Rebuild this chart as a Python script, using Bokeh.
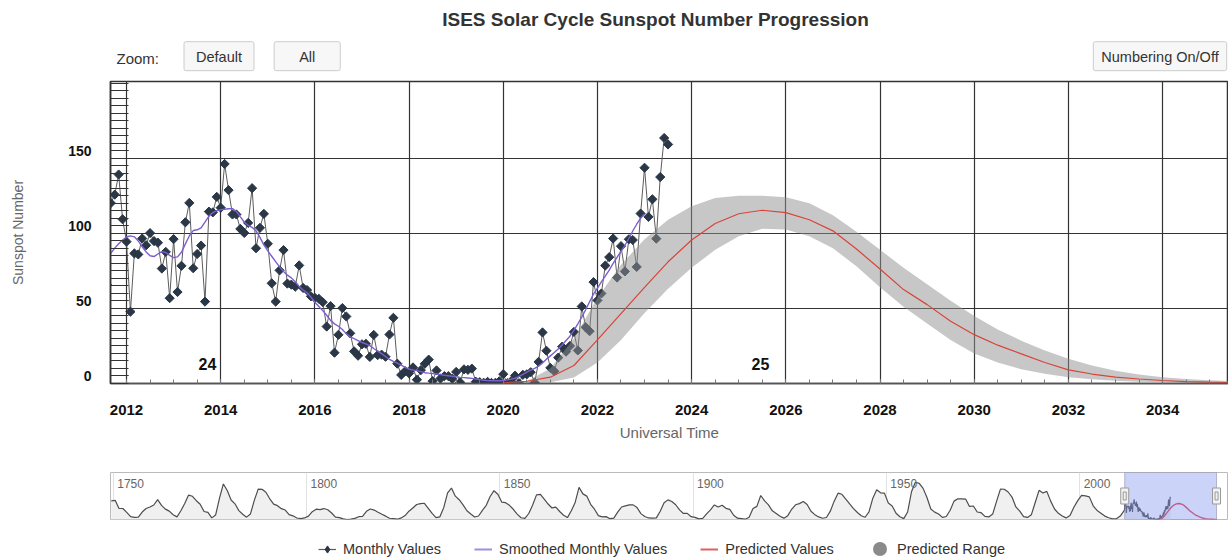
import numpy as np
from bokeh.plotting import figure
from bokeh.models import (Range1d, SingleIntervalTicker, FixedTicker, Label, Legend, LegendItem,
                          ColumnDataSource, BoxAnnotation, Grid, LinearAxis)
from bokeh.layouts import column
from bokeh.embed import file_html
from bokeh.resources import INLINE

FONT = "Liberation Sans"

# ---------------- data ----------------
monthly_start = (2011, 7)
monthly_values = [
    64.5, 65.8, 120.1, 125.7, 139.1, 109.3,
    94.4, 47.8, 86.6, 85.9, 96.5, 92.0, 100.1, 94.8, 93.7, 76.5, 87.6, 56.8,
    96.1, 60.9, 78.3, 107.3, 120.2, 76.7, 86.2, 91.8, 54.5, 114.4, 113.9, 124.2,
    117.0, 146.1, 128.7, 112.5, 112.5, 102.9, 100.2, 106.9, 130.0, 90.0, 103.6, 112.9,
    93.0, 66.7, 54.5, 75.3, 88.8, 66.5, 65.8, 64.4, 78.6, 63.6, 62.2, 58.0,
    57.0, 56.4, 54.1, 37.9, 51.5, 20.5, 32.4, 50.2, 44.6, 33.4, 21.4, 18.5,
    26.1, 26.4, 17.7, 32.3, 18.9, 19.2, 17.8, 32.6, 43.7, 13.2, 5.7, 8.2,
    6.8, 10.7, 2.5, 8.9, 13.1, 15.9, 1.6, 8.7, 3.3, 4.9, 4.9, 3.1,
    7.7, 0.8, 9.4, 9.1, 9.9, 1.2, 0.9, 0.5, 1.1, 0.4, 0.5, 1.5,
    6.2, 0.2, 1.5, 5.2, 0.2, 5.8, 6.1, 7.5, 0.6, 14.4, 34.0, 21.8,
    10.4, 8.2, 17.2, 24.5, 21.2, 25.0, 34.3, 22.0, 51.3, 37.4, 34.8, 67.5,
    55.3, 59.9, 78.5, 84.1, 96.5, 70.5, 91.4, 74.6, 96.0, 95.5, 77.6, 113.1,
    143.6, 110.9, 122.6, 96.4, 137.4, 163.4, 159.1,
]

smoothed_start = (2011, 7)
smoothed_values = [
    78.0, 82.5, 86.7, 90.1, 93.0, 95.5,
    97.5, 98.3, 97.6, 94.9, 91.0, 87.6, 85.0, 84.5, 86.2, 87.8, 87.2, 85.3,
    83.8, 84.3, 87.3, 92.9, 98.2, 101.8, 102.3, 103.6, 107.4, 111.4, 113.8, 115.0,
    115.6, 116.0, 116.3, 116.4, 114.5, 110.9, 107.5, 105.2, 103.9, 101.6, 97.3, 92.3,
    88.3, 84.7, 81.1, 77.6, 74.5, 72.1, 70.3, 67.7, 64.5, 62.2, 60.4, 57.5,
    54.1, 51.2, 48.5, 45.4, 42.0, 39.7, 38.1, 35.9, 33.2, 31.1, 29.8, 28.6,
    27.3, 26.4, 25.2, 23.3, 21.6, 19.9, 18.0, 16.1, 14.7, 13.5, 12.2, 10.8,
    9.6, 9.0, 8.6, 7.9, 7.2, 6.9, 6.7, 6.3, 5.9, 5.5, 5.2, 4.8,
    4.4, 4.1, 3.9, 3.7, 3.4, 3.0, 2.6, 2.2, 1.9, 1.8, 1.9, 1.8,
    2.0, 2.4, 2.9, 3.5, 4.6, 6.0, 7.6, 8.9, 10.1, 11.6, 13.6, 16.2,
    18.4, 20.6, 23.0, 25.6, 28.6, 31.5, 35.3, 39.7, 44.2, 49.1, 54.4, 59.5,
    63.5, 67.6, 71.4, 75.4, 79.9, 84.0, 88.0, 92.0, 96.5, 101.5, 106.0, 110.0,
    113.0,
]

pred_years = [2020.0, 2020.5, 2021.0, 2021.5, 2022.0, 2022.5, 2023.0, 2023.5,
              2024.0, 2024.5, 2025.0, 2025.5, 2026.0, 2026.5, 2027.0, 2027.5,
              2028.0, 2028.5, 2029.0, 2029.5, 2030.0, 2030.5, 2031.0, 2031.5,
              2032.0, 2032.5, 2033.0, 2033.5, 2034.0, 2034.5, 2035.0, 2035.5]
pred_values = [0.5, 1.5, 4.2, 12.0, 29.0, 46.5, 64.0, 81.0,
               95.5, 106.5, 113.0, 115.3, 113.7, 109.0, 101.6, 89.5,
               76.2, 62.5, 52.5, 41.5, 32.5, 25.5, 19.7, 14.0,
               9.1, 6.3, 4.2, 3.0, 2.0, 1.3, 0.9, 0.6]
range_high = [0.5, 1.5, 10.0, 30.0, 57.0, 79.0, 96.0, 109.0,
              118.0, 123.5, 125.0, 125.0, 124.0, 120.0, 112.0, 101.0,
              89.0, 77.0, 66.0, 55.0, 45.0, 36.0, 28.5, 22.0,
              16.5, 12.0, 8.5, 6.0, 4.2, 3.0, 2.1, 1.5]
range_low = [0.5, 0.5, 0.8, 4.0, 14.0, 29.0, 47.0, 63.0,
             77.0, 89.0, 98.0, 103.0, 102.5, 98.0, 90.0, 78.0,
             64.0, 51.0, 40.0, 29.0, 20.0, 14.0, 9.5, 6.5,
             4.2, 2.8, 1.8, 1.2, 0.8, 0.5, 0.3, 0.2]

# yearly mean sunspot numbers for the navigator (1749 ...)
yearly_start = 1749
yearly_values = [
    134.7, 139.0, 79.5, 79.7, 51.2, 20.3, 16.0, 17.0, 54.0, 79.3, 90.0,
    104.8, 143.2, 102.0, 75.2, 60.7, 34.8, 19.0, 63.0, 116.3, 176.8,
    168.0, 136.0, 110.8, 58.0, 51.0, 11.7, 33.0, 154.2, 257.3, 209.8,
    141.3, 113.5, 64.2, 38.0, 17.0, 40.2, 138.2, 220.0, 218.2, 196.8,
    149.8, 111.0, 100.0, 78.2, 68.3, 35.5, 26.7, 10.7, 6.8, 11.3,
    24.2, 56.7, 75.0, 71.8, 79.2, 70.3, 46.8, 16.8, 13.5, 4.2,
    0.0, 2.3, 8.3, 20.3, 23.2, 59.0, 76.3, 68.3, 52.9, 38.5,
    24.2, 9.2, 6.3, 2.2, 11.4, 28.2, 59.9, 83.0, 108.5, 115.2,
    117.4, 80.8, 44.3, 13.4, 19.5, 85.8, 192.7, 227.3, 168.7, 143.0,
    105.5, 63.3, 40.3, 18.1, 25.1, 65.8, 102.7, 166.3, 208.3, 182.5,
    126.3, 122.0, 102.7, 74.1, 39.0, 12.7, 8.2, 43.4, 104.4, 178.3,
    182.2, 146.6, 112.1, 83.5, 89.2, 57.8, 30.7, 13.9, 62.8, 123.6,
    232.0, 185.3, 169.2, 110.1, 74.5, 28.3, 18.9, 20.7, 5.7, 10.0,
    53.7, 90.5, 99.0, 106.1, 105.8, 86.3, 42.4, 21.8, 11.2, 10.4,
    11.8, 59.5, 121.7, 142.0, 130.0, 106.6, 69.4, 43.8, 44.4, 20.2,
    15.7, 4.6, 8.5, 40.8, 70.1, 105.5, 90.1, 102.8, 80.9, 73.2,
    30.9, 9.5, 6.0, 2.4, 16.1, 79.0, 95.0, 173.6, 134.6, 105.7,
    62.7, 43.5, 23.7, 9.7, 27.9, 74.0, 106.5, 114.7, 129.7, 108.2,
    59.4, 35.1, 18.6, 9.2, 14.6, 60.2, 132.8, 190.6, 182.6, 148.0,
    113.0, 79.2, 50.8, 27.1, 16.1, 55.3, 154.3, 214.7, 193.0, 190.7,
    118.9, 98.3, 45.0, 20.1, 6.6, 54.2, 200.7, 269.3, 261.7, 225.1,
    159.0, 76.4, 53.4, 39.9, 15.0, 22.0, 66.8, 132.9, 150.0, 149.4,
    148.0, 94.4, 97.6, 54.1, 49.2, 22.5, 18.4, 39.3, 131.0, 220.1,
    218.9, 198.9, 162.4, 91.0, 60.5, 20.6, 14.8, 33.9, 123.0, 211.1,
    191.8, 203.3, 133.0, 76.1, 44.9, 25.1, 11.6, 28.9, 88.3, 136.3,
    173.9, 170.4, 163.6, 99.3, 65.3, 45.8, 24.7, 12.6, 4.2, 4.8,
    24.9,
]

cycle_names = ["24", "25"]
cycle_label_years = [2013.72, 2025.46]
y_ticks = [0, 50, 100, 150]
nav_tick_years = [1750, 1800, 1850, 1900, 1950, 2000]
legend_labels = ["Monthly Values", "Smoothed Monthly Values", "Predicted Values", "Predicted Range"]

X0, X1 = 2011.66, 2035.40
Y0, Y1 = 0, 201
LABEL_SHIFT = 5          # y tick labels sit a little above their grid lines
NAV_X0, NAV_X1 = 1749.3, 2038.5
NAV_Y1 = 340
W = 1228
LEFT = 110               # common left border of every stacked figure (layout aligns them)

C_MONTH_LINE = "#5c5c5c"
C_MONTH_MARK = "#2a3746"
C_SMOOTH = "#7b5fd0"
C_PRED = "#d9443a"


def month_axis(start, n):
    y, m = start
    return [y + (m - 1 + i) / 12.0 for i in range(n)]


monthly_x = month_axis(monthly_start, len(monthly_values))
smoothed_x = month_axis(smoothed_start, len(smoothed_values))
yearly_x = [yearly_start + i + 0.5 for i in range(len(yearly_values))]


def blank(height):
    # a figure whose data units are page pixels (x from the page's left, y from its bottom)
    f = figure(width=W, height=height, x_range=Range1d(LEFT, W), y_range=Range1d(0, height),
               toolbar_location=None, output_backend="svg", title=None,
               x_axis_location=None, y_axis_location=None,
               min_border_left=LEFT, min_border_right=0, min_border_top=0, min_border_bottom=0)
    f.outline_line_color = None
    f.xgrid.visible = False
    f.ygrid.visible = False
    f.background_fill_color = "white"
    f.border_fill_color = "white"
    return f


def style_legend(lg):
    lg.label_text_font = FONT
    lg.label_text_font_size = "14.5px"
    lg.label_text_color = "#333333"
    lg.padding = 0
    lg.margin = 0
    lg.border_line_color = None
    lg.background_fill_alpha = 0


# ---------------- header (title + controls) ----------------
HEAD_H = 72
head = blank(HEAD_H)
head.add_layout(Label(x=655, y=HEAD_H - 19, text="ISES Solar Cycle Sunspot Number Progression",
                      text_font=FONT, text_font_size="19px", text_font_style="bold",
                      text_color="#333333", text_align="center", text_baseline="middle"))
head.add_layout(Label(x=116, y=HEAD_H - 58, text="Zoom:", text_font=FONT,
                      text_font_size="15px", text_color="#333333",
                      text_align="left", text_baseline="middle"))
for txt, cx, padx in (("Default", 218.5, 12), ("All", 306.7, 25), ("Numbering On/Off", 1159.5, 8)):
    head.add_layout(Label(x=cx, y=HEAD_H - 55.7, text=txt, text_font=FONT,
                          text_font_size="14.5px", text_color="#333333",
                          text_align="center", text_baseline="middle",
                          background_fill_color="#f7f7f7", border_line_color="#cccccc",
                          padding=dict(left=padx, right=padx, top=7, bottom=6),
                          border_radius=2))

# ---------------- main chart ----------------
main = figure(width=W, height=386, x_range=Range1d(X0, X1), y_range=Range1d(Y0, Y1),
              toolbar_location=None, output_backend="svg", title=None, y_axis_location=None,
              min_border_left=LEFT, min_border_right=0, min_border_top=9, min_border_bottom=75)
main.background_fill_color = "white"
main.border_fill_color = "white"
main.outline_line_color = "#333333"
main.outline_line_width = 1.5

xt = SingleIntervalTicker(interval=2, num_minor_ticks=4)
main.xaxis.ticker = xt
main.xgrid.ticker = xt
main.ygrid.ticker = FixedTicker(ticks=y_ticks)
for g in (main.xgrid, main.ygrid):
    g.grid_line_color = "#333333"
    g.grid_line_width = 1.2

xa = main.xaxis[0]
xa.axis_line_color = "#555555"
xa.axis_line_width = 1.5
xa.major_tick_in = 4
xa.major_tick_out = 0
xa.minor_tick_in = 4
xa.minor_tick_out = 0
xa.major_tick_line_color = "#777777"
xa.minor_tick_line_color = "#777777"
xa.major_label_standoff = 21
xa.major_label_text_font = FONT
xa.major_label_text_font_size = "15px"
xa.major_label_text_font_style = "bold"
xa.major_label_text_color = "#111111"
xa.axis_label = "Universal Time"
xa.axis_label_text_font = FONT
xa.axis_label_text_font_size = "15px"
xa.axis_label_text_font_style = "normal"
xa.axis_label_text_color = "#666666"
xa.axis_label_standoff = 6

main.extra_y_ranges = {"ylab": Range1d(Y0 - LABEL_SHIFT, Y1 - LABEL_SHIFT)}
ya = LinearAxis(y_range_name="ylab",
                ticker=FixedTicker(ticks=y_ticks,
                                   minor_ticks=list(range(Y0 - LABEL_SHIFT, Y1, 5))))
ya.axis_line_color = "#333333"
ya.axis_line_width = 1.5
ya.major_tick_in = 18
ya.major_tick_out = 0
ya.minor_tick_in = 18
ya.minor_tick_out = 0
ya.major_tick_line_color = "#333333"
ya.minor_tick_line_color = "#333333"
ya.major_label_standoff = 19
ya.major_label_text_font = FONT
ya.major_label_text_font_size = "14px"
ya.major_label_text_font_style = "bold"
ya.major_label_text_color = "#111111"
ya.axis_label = "Sunspot Number"
ya.axis_label_text_font = FONT
ya.axis_label_text_font_size = "14px"
ya.axis_label_text_font_style = "normal"
ya.axis_label_text_color = "#666666"
ya.axis_label_standoff = 39
main.add_layout(ya, "left")

src_m = ColumnDataSource(dict(x=monthly_x, y=monthly_values))
main.line("x", "y", source=src_m, line_color=C_MONTH_LINE, line_width=1)
main.scatter("x", "y", source=src_m, marker="square", angle=np.pi / 4, size=6.5,
             fill_color=C_MONTH_MARK, line_color=C_MONTH_MARK)
main.line(smoothed_x, smoothed_values, line_color=C_SMOOTH, line_width=1.4)
main.varea(x=pred_years, y1=range_low, y2=range_high, fill_color="#8f8f8f", fill_alpha=0.5)
main.line(pred_years, pred_values, line_color=C_PRED, line_width=1.2)

for name, yr in zip(cycle_names, cycle_label_years):
    main.add_layout(Label(x=yr, y=13, text=name, text_font=FONT, text_font_size="16px",
                          text_font_style="bold", text_align="center", text_baseline="middle",
                          text_color="#111111"))

# ---------------- navigator ----------------
nav = figure(width=W, height=72, x_range=Range1d(NAV_X0, NAV_X1), y_range=Range1d(0, NAV_Y1),
             toolbar_location=None, output_backend="svg", title=None,
             x_axis_location=None, y_axis_location=None,
             min_border_left=LEFT, min_border_right=0, min_border_top=14, min_border_bottom=11)
nav.background_fill_color = "white"
nav.border_fill_color = "white"
nav.outline_line_color = "#bbbbbb"
nav.xgrid.visible = False
nav.ygrid.visible = False
nav.add_layout(Grid(dimension=0, ticker=FixedTicker(ticks=nav_tick_years),
                    grid_line_color="#e2e2e2"))

nav_x = yearly_x + monthly_x
nav_y = yearly_values + monthly_values
nav.varea(x=nav_x, y1=0, y2=nav_y, fill_color="#f0f0f0")
nav.line(nav_x, nav_y, line_color="#4d4d4d", line_width=1.2)
nav.line(pred_years, pred_values, line_color="#e0404a", line_width=1.4)

for yr in nav_tick_years:
    nav.add_layout(Label(x=yr, y=36, y_units="screen", x_offset=4, text=str(yr),
                         text_font=FONT, text_font_size="12px", text_color="#666666",
                         text_align="left", text_baseline="middle"))

nav.add_layout(BoxAnnotation(left=X0, right=X1, fill_color="#8090f0", fill_alpha=0.4,
                             line_color="#8a8fb0", line_alpha=0.6))
h1 = nav.rect(x=[X0, X1], y=[NAV_Y1 / 2] * 2, width=8, height=16, width_units="screen",
              height_units="screen", fill_color="#f2f2f2", line_color="#999999")
h2 = nav.rect(x=[X0, X1], y=[NAV_Y1 / 2] * 2, width=3, height=8, width_units="screen",
              height_units="screen", fill_color=None, line_color="#999999")
h1.level = "overlay"
h2.level = "overlay"

# ---------------- legend footer ----------------
# the series are added here only so the legend can draw their symbols; their years lie
# outside this pixel-unit strip, so nothing but the legend shows.
FOOT_H = 28
foot = blank(FOOT_H)
lg_m_line = foot.line(monthly_x, monthly_values, line_color=C_MONTH_LINE, line_width=1.2)
lg_m_mark = foot.scatter(monthly_x, monthly_values, marker="diamond", size=8,
                         fill_color=C_MONTH_MARK, line_color=C_MONTH_MARK)
lg_s = foot.line(smoothed_x, smoothed_values, line_color="#9d8fe0", line_width=2)
lg_p = foot.line(pred_years, pred_values, line_color="#e06060", line_width=2)
lg_r = foot.scatter(pred_years, range_high, marker="circle", size=14,
                    fill_color="#8a8a8a", line_color=None)

legend = Legend(items=[
    LegendItem(label=legend_labels[0], renderers=[lg_m_line, lg_m_mark]),
    LegendItem(label=legend_labels[1], renderers=[lg_s]),
    LegendItem(label=legend_labels[2], renderers=[lg_p]),
], orientation="horizontal", location=(318 - LEFT, -1))
style_legend(legend)
legend.glyph_width = 18
legend.glyph_height = 20
legend.label_height = 20
legend.label_standoff = 7
legend.spacing = 33
foot.add_layout(legend)

legend2 = Legend(items=[LegendItem(label=legend_labels[3], renderers=[lg_r])],
                 orientation="horizontal", location=(862 - LEFT, -8))
style_legend(legend2)
legend2.glyph_width = 35
legend2.glyph_height = 35
legend2.label_height = 35
legend2.label_standoff = 0
foot.add_layout(legend2)

layout = column(head, main, nav, foot, spacing=0)
open("out.html", "w").write(file_html(layout, INLINE))
